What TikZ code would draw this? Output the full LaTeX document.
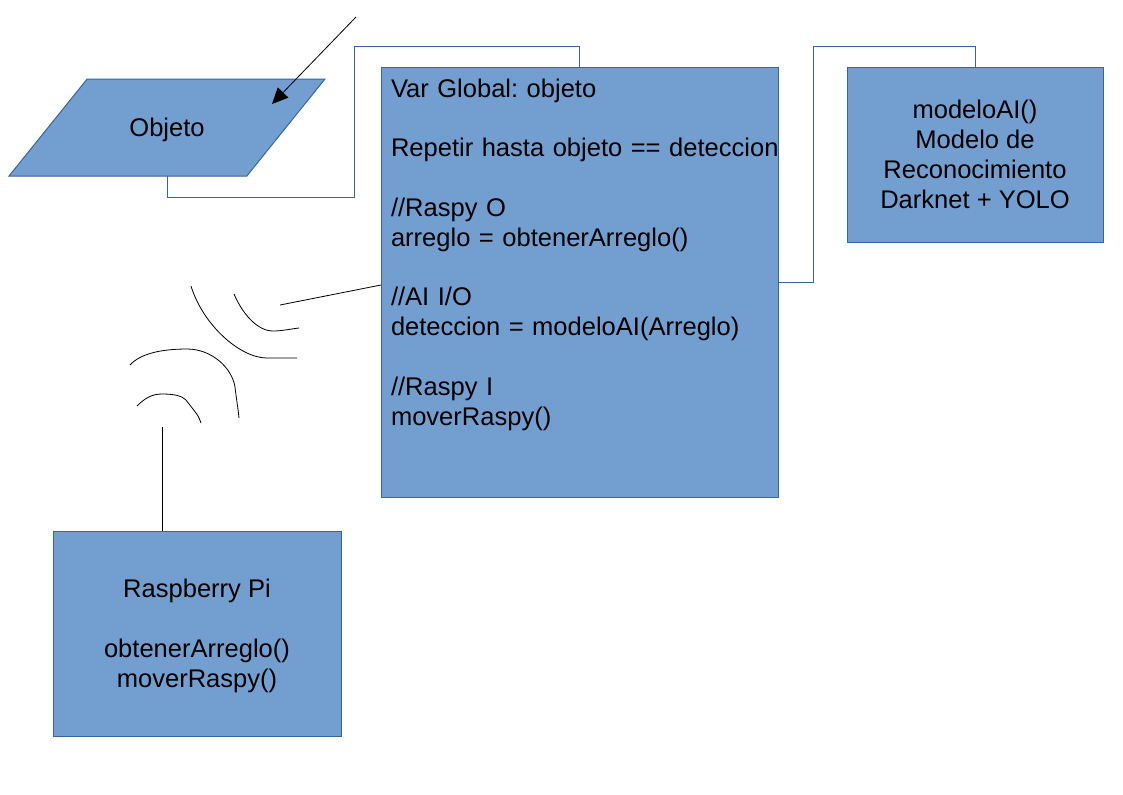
\documentclass[tikz,border=0pt]{standalone}
\usepackage{fontspec}
\setmainfont{Liberation Sans}
\usetikzlibrary{shapes.geometric}
\usetikzlibrary{arrows.meta}
\definecolor{boxfill}{HTML}{729FCF}
\definecolor{boxline}{HTML}{3465A4}
\newcommand{\blanco}{\mbox{}\\}
\newcommand{\puntal}{\rule[-4.5pt]{0pt}{22.35pt}}
\tikzset{
	bloque/.style={draw=boxline, fill=boxfill, line width=0.75pt, inner sep=0pt, outer sep=0pt, align=center, font=\fontsize{19.15}{22.35}\selectfont\frenchspacing},
	enlace/.style={draw=boxline, line width=0.75pt},
	senal/.style={draw=black, line width=0.6pt},
}

\begin{document}
\begin{tikzpicture}[x=0.75pt, y=-0.75pt]
	\useasboundingbox (0,0) rectangle (1123,794);
	\node[bloque, trapezium, trapezium left angle=39, trapezium right angle=141, trapezium stretches=true, minimum width=237pt, minimum height=72.75pt] (objeto) at (167,127.5) {\puntal Objeto};
	\node[bloque, minimum width=297.75pt, minimum height=322.5pt, text width=297.75pt, align=left] (programa) at (579.5,282) {\leftskip=7.5pt\puntal Var Global: objeto\\\blanco \mbox{Repetir hasta objeto == deteccion}\\\blanco //Raspy O\\arreglo = obtenerArreglo()\\\blanco //AI I/O\\deteccion = modeloAI(Arreglo)\\\blanco //Raspy I\\moverRaspy()\\\blanco \mbox{}\puntal};
	\node[bloque, minimum width=192pt, minimum height=131.25pt] (modelo) at (975,154.5) {\puntal modeloAI()\\Modelo de\\Reconocimiento\\Darknet + YOLO\puntal};
	\node[bloque, minimum width=216pt, minimum height=153.75pt] (raspberry) at (197,633.5) {\puntal Raspberry Pi\\\blanco obtenerArreglo()\\moverRaspy()\puntal};
	\coordinate (flechaIni) at (356,17);
	\coordinate (flechaFin) at (272,104);
	\coordinate (antenaPi) at (162,427);
	\coordinate (antenaAI) at (280,305);
	\coordinate (salidaAI) at (381,285);
	\draw[senal, -{Stealth[length=12pt, width=11pt, inset=0pt]}] (flechaIni) -- (flechaFin);
	\draw[enlace] (objeto.south) |- (354,197) -- (354,46) -| (programa.north);
	\draw[enlace] (programa.east) -- (813,282) -- (813,46) -| (modelo.north);
	\draw[senal] (antenaAI) -- (salidaAI);
	\draw[senal] (raspberry.north -| antenaPi) -- (antenaPi);
	%ondas
	\draw[senal] (191,286) .. controls (203,325) and (240,358) .. (267,358) -- (297,358);
	\draw[senal] (234,294) .. controls (243,315) and (258,331) .. (273,331) .. controls (282,331) and (290,329) .. (299,328);
	\draw[senal] (130,365) .. controls (140,354) and (160,349) .. (187,349) .. controls (212,349) and (232,368) .. (235,387) .. controls (236,396) and (238,408) .. (239,418);
	\draw[senal] (137,406) .. controls (145,398) and (152,394) .. (162,394) .. controls (175,394) and (182,396) .. (186,400) -- (196,413) .. controls (199,417) and (200,420) .. (201,423);
\end{tikzpicture}
\end{document}
